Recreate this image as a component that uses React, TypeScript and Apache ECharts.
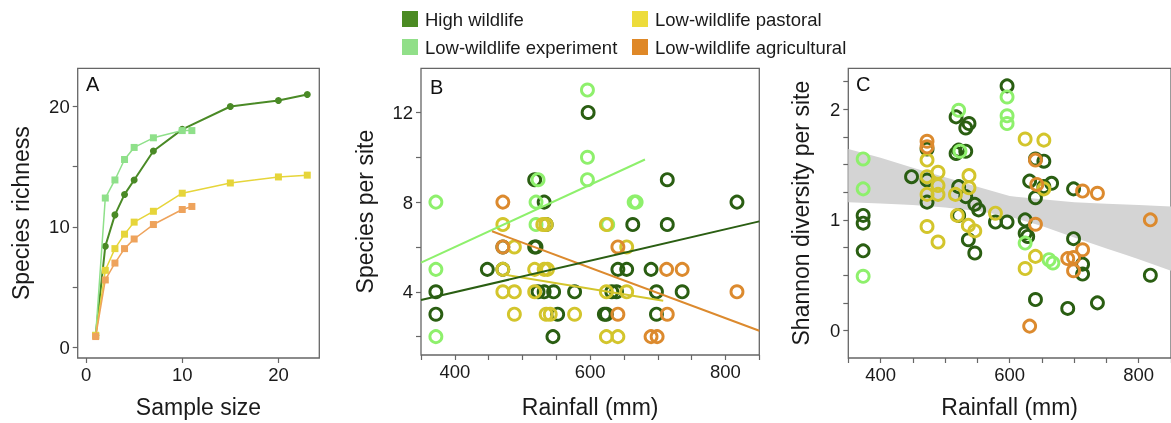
import React, { useEffect, useRef } from "react";
import * as echarts from "echarts";

const FONT = '"Liberation Sans", Arial, Helvetica, sans-serif';

// ---------- Panel A: rarefaction curves ----------
const sampleSize = [1, 2, 3, 4, 5, 7, 10, 15, 20, 23];
const highA = [1.0, 8.4, 11.0, 12.7, 13.9, 16.3, 18.1, 20.0, 20.5, 21.0];
const pastA = [1.0, 6.4, 8.2, 9.4, 10.4, 11.3, 12.8, 13.65, 14.15, 14.3];
const shortSize = [1, 2, 3, 4, 5, 7, 10, 11];
const expA = [1.0, 12.4, 13.9, 15.6, 16.6, 17.4, 18.0, 18.0];
const agriA = [0.9, 5.6, 7.0, 8.2, 9.0, 10.2, 11.45, 11.7];

// ---------- Panel B: species per site vs rainfall ----------
const highB_rain = [372, 372, 448, 471, 471, 518, 532, 535, 518, 520, 523, 532, 546, 552, 545, 577, 597, 663, 714, 714, 817, 641, 654, 690, 632, 639, 698, 736, 621, 624, 698];
const highB_sp = [4, 3, 5, 6, 5, 9, 8, 7, 6, 6, 4, 4, 4, 3, 2, 4, 12, 7, 9, 7, 8, 5, 5, 5, 4, 4, 4, 4, 3, 3, 3];
const expB_rain = [372, 372, 372, 523, 520, 520, 596, 596, 596, 665, 668, 626];
const expB_sp = [8, 5, 2, 9, 8, 7, 13, 10, 9, 8, 8, 7];
const pastB_rain = [471, 471, 471, 488, 488, 488, 535, 530, 518, 532, 537, 518, 535, 541, 577, 624, 654, 624, 654, 624, 641];
const pastB_sp = [7, 5, 4, 6, 4, 3, 7, 7, 5, 5, 5, 4, 3, 3, 3, 7, 6, 4, 4, 2, 2];
const agriB_rain = [471, 471, 641, 713, 736, 817, 641, 714, 690, 699];
const agriB_sp = [8, 6, 6, 5, 5, 4, 3, 3, 2, 2];

// fitted lines (end points)
const fitHighB_x = [350, 850];
const fitHighB_y = [3.63, 7.14];
const fitExpB_x = [350, 681];
const fitExpB_y = [5.3, 9.9];
const fitPastB_x = [472, 708];
const fitPastB_y = [4.77, 3.6];
const fitAgriB_x = [455, 850];
const fitAgriB_y = [6.7, 2.26];

// ---------- Panel C: Shannon diversity vs rainfall ----------
const highC_rain = [373, 373, 373, 448, 472, 472, 472, 517, 517, 521, 532, 532, 537, 521, 532, 521, 536, 546, 546, 552, 578, 596, 596, 624, 624, 628, 631, 640, 640, 640, 653, 653, 665, 690, 699, 699, 713, 713, 736, 818];
const highC_h = [1.04, 0.97, 0.72, 1.39, 1.64, 1.36, 1.16, 1.93, 1.60, 1.63, 1.62, 1.83, 1.87, 1.30, 1.21, 1.04, 0.82, 0.70, 1.14, 1.09, 0.98, 2.21, 0.98, 1.00, 0.88, 0.85, 1.35, 1.55, 1.20, 0.28, 1.53, 1.30, 1.33, 0.20, 1.28, 0.83, 0.60, 0.51, 0.25, 0.50];
const expC_rain = [373, 373, 373, 521, 523, 596, 596, 596, 624, 661, 667];
const expC_h = [1.55, 1.28, 0.49, 1.99, 1.62, 2.11, 1.94, 1.87, 0.79, 0.64, 0.61];
const pastC_rain = [472, 472, 472, 472, 489, 489, 489, 489, 537, 516, 519, 536, 546, 537, 578, 624, 624, 640, 653, 653];
const pastC_h = [1.54, 1.39, 1.23, 0.94, 1.43, 1.31, 1.23, 0.80, 1.40, 1.23, 1.04, 0.95, 0.90, 1.29, 1.06, 1.73, 0.56, 0.67, 1.72, 1.28];
const agriC_rain = [472, 472, 631, 640, 640, 642, 690, 699, 699, 713, 713, 736, 818];
const agriC_h = [1.71, 1.66, 0.04, 1.54, 0.96, 1.32, 0.65, 0.66, 0.54, 1.26, 0.73, 1.24, 1.00];

// confidence band
const bandRain = [350, 400, 450, 500, 550, 600, 650, 700, 750, 800, 850];
const bandUpper = [1.64, 1.56, 1.47, 1.385, 1.30, 1.215, 1.185, 1.16, 1.145, 1.133, 1.12];
const bandLower = [1.16, 1.148, 1.133, 1.112, 1.08, 1.03, 0.945, 0.84, 0.742, 0.645, 0.54];

// tick values
const ticksAx = [0, 10, 20];
const ticksAy = [0, 5, 10, 15, 20];
const labelsAy = [0, 10, 20];
const ticksRain = [350, 400, 450, 500, 550, 600, 650, 700, 750, 800, 850];
const labelsRain = [400, 600, 800];
const ticksBy = [2, 4, 6, 8, 10, 12];
const labelsBy = [4, 8, 12];
const ticksCy = [0, 0.25, 0.5, 0.75, 1, 1.25, 1.5, 1.75, 2, 2.25];
const labelsCy = [0, 1, 2];

const groups = ["High wildlife", "Low-wildlife experiment", "Low-wildlife pastoral", "Low-wildlife agricultural"];
const legendColors = ["#4b8b23", "#91df89", "#eddc3b", "#df8827"];
const colA = ["#4a8a26", "#8fe08a", "#e6d53a", "#eea35c"];
const colB = ["#2a5e12", "#8ef06c", "#d3c52c", "#dc8a2e"];

const pairs = (xs: number[], ys: number[]) => xs.map((x, i) => [x, ys[i]]);

const AXIS_GRAY = "#666";
const TEXT = "#1a1a1a";

function xAxisCfg(grid: number, min: number, max: number, ticks: number[], labels: number[], name: string, gap: number) {
  return {
    gridIndex: grid,
    type: "value",
    position: "bottom",
    min,
    max,
    axisLine: { show: false, onZero: false },
    axisTick: { show: true, inside: false, length: 5, customValues: ticks, lineStyle: { color: AXIS_GRAY, width: 1.2 } },
    axisLabel: { customValues: labels, fontSize: 18.5, fontFamily: FONT, color: TEXT, margin: 7 },
    splitLine: { show: false },
    name,
    nameLocation: "middle",
    nameGap: gap,
    nameTextStyle: { fontSize: 23, fontFamily: FONT, color: TEXT },
  };
}
function yAxisCfg(grid: number, min: number, max: number, ticks: number[], labels: number[], name: string, gap: number) {
  return {
    gridIndex: grid,
    type: "value",
    position: "left",
    min,
    max,
    axisLine: { show: false, onZero: false },
    axisTick: { show: true, inside: false, length: 5, customValues: ticks, lineStyle: { color: AXIS_GRAY, width: 1.2 } },
    axisLabel: { customValues: labels, fontSize: 18.5, fontFamily: FONT, color: TEXT, margin: 8 },
    splitLine: { show: false },
    name,
    nameLocation: "middle",
    nameGap: gap,
    nameTextStyle: { fontSize: 23, fontFamily: FONT, color: TEXT },
  };
}

function scatter(name: string, idx: number, xs: number[], ys: number[], color: string, z: number) {
  return {
    type: "scatter",
    name,
    xAxisIndex: idx,
    yAxisIndex: idx,
    data: pairs(xs, ys),
    symbol: "circle",
    symbolSize: 12,
    z,
    itemStyle: { color: "rgba(255,255,255,0)", borderColor: color, borderWidth: 2.9, opacity: 1 },
  };
}
function fitLine(name: string, xs: number[], ys: number[], color: string) {
  return {
    type: "line",
    name,
    xAxisIndex: 1,
    yAxisIndex: 1,
    data: pairs(xs, ys),
    symbol: "none",
    z: 10,
    lineStyle: { color, width: 2 },
  };
}

export default function App() {
  const ref = useRef<HTMLDivElement>(null);
  useEffect(() => {
    if (!ref.current) return;
    const chart = echarts.init(ref.current, undefined, { renderer: "svg" });
    const gridStyle = { show: true, borderColor: AXIS_GRAY, borderWidth: 1.3, backgroundColor: "transparent" };
    const legendPos = [
      [402, 9.5],
      [402, 37.5],
      [632, 9.5],
      [632, 37.5],
    ];
    const legendOrder = [0, 1, 2, 3];
    const option: any = {
      animation: false,
      textStyle: { fontFamily: FONT },
      grid: [
        { left: 77.7, top: 68.3, width: 241.6, height: 291.7, ...gridStyle },
        { left: 421, top: 68.3, width: 338.3, height: 288.4, ...gridStyle },
        { left: 848.3, top: 68.3, width: 326.3, height: 291, ...gridStyle },
      ],
      legend: legendOrder.map((g) => ({
        left: legendPos[g][0],
        top: legendPos[g][1],
        orient: "horizontal",
        padding: 0,
        itemGap: 0,
        itemWidth: 16,
        itemHeight: 16,
        icon: "rect",
        selectedMode: false,
        textStyle: { fontSize: 18.5, fontFamily: FONT, color: TEXT, lineHeight: 16, padding: [0, 0, 0, 2] },
        data: [{ name: groups[g], icon: "rect", itemStyle: { color: legendColors[g], borderWidth: 0, opacity: 1 } }],
      })),
      xAxis: [
        xAxisCfg(0, -0.87, 24.25, ticksAx, ticksAx, "Sample size", 37),
        xAxisCfg(1, 350, 850, ticksRain, labelsRain, "Rainfall (mm)", 40),
        xAxisCfg(2, 350, 850, ticksRain, labelsRain, "Rainfall (mm)", 37),
      ],
      yAxis: [
        yAxisCfg(0, -0.88, 23.17, ticksAy, labelsAy, "Species richness", 45),
        yAxisCfg(1, 1.18, 13.97, ticksBy, labelsBy, "Species per site", 45),
        yAxisCfg(2, -0.248, 2.369, ticksCy, labelsCy, "Shannon diversity per site", 36),
      ],
      graphic: [
        { type: "text", left: 86, top: 74, style: { text: "A", fontSize: 20, fontFamily: FONT, fill: "#111" } },
        { type: "text", left: 430, top: 77, style: { text: "B", fontSize: 20, fontFamily: FONT, fill: "#111" } },
        { type: "text", left: 856, top: 74, style: { text: "C", fontSize: 20, fontFamily: FONT, fill: "#111" } },
      ],
      series: [
        // Panel A
        {
          type: "line", name: groups[0], xAxisIndex: 0, yAxisIndex: 0, data: pairs(sampleSize, highA),
          symbol: "circle", symbolSize: 7, z: 3, lineStyle: { color: colA[0], width: 2 }, itemStyle: { color: colA[0] },
        },
        {
          type: "line", name: groups[1], xAxisIndex: 0, yAxisIndex: 0, data: pairs(shortSize, expA),
          symbol: "rect", symbolSize: 7, z: 4, lineStyle: { color: colA[1], width: 1.5 }, itemStyle: { color: colA[1] },
        },
        {
          type: "line", name: groups[2], xAxisIndex: 0, yAxisIndex: 0, data: pairs(sampleSize, pastA),
          symbol: "rect", symbolSize: 7, z: 4, lineStyle: { color: colA[2], width: 1.5 }, itemStyle: { color: colA[2] },
        },
        {
          type: "line", name: groups[3], xAxisIndex: 0, yAxisIndex: 0, data: pairs(shortSize, agriA),
          symbol: "rect", symbolSize: 7, z: 5, lineStyle: { color: colA[3], width: 1.5 }, itemStyle: { color: colA[3] },
        },
        // Panel B
        scatter(groups[0], 1, highB_rain, highB_sp, colB[0], 3),
        scatter(groups[1], 1, expB_rain, expB_sp, colB[1], 4),
        scatter(groups[2], 1, pastB_rain, pastB_sp, colB[2], 5),
        scatter(groups[3], 1, agriB_rain, agriB_sp, colB[3], 6),
        fitLine(groups[1], fitExpB_x, fitExpB_y, colB[1]),
        fitLine(groups[3], fitAgriB_x, fitAgriB_y, colB[3]),
        fitLine(groups[2], fitPastB_x, fitPastB_y, colB[2]),
        fitLine(groups[0], fitHighB_x, fitHighB_y, colB[0]),
        // Panel C band
        {
          type: "custom",
          name: "band",
          xAxisIndex: 2,
          yAxisIndex: 2,
          z: 1,
          silent: true,
          data: [[bandRain[0], bandUpper[0]]],
          renderItem: (params: any, api: any) => {
            const up = bandRain.map((r, i) => api.coord([r, bandUpper[i]]));
            const lo = bandRain.map((r, i) => api.coord([r, bandLower[i]])).reverse();
            return {
              type: "polygon",
              shape: { points: up.concat(lo) },
              style: { fill: "#d4d4d4", stroke: "none" },
            };
          },
        },
        scatter(groups[0], 2, highC_rain, highC_h, colB[0], 3),
        scatter(groups[1], 2, expC_rain, expC_h, colB[1], 4),
        scatter(groups[2], 2, pastC_rain, pastC_h, colB[2], 5),
        scatter(groups[3], 2, agriC_rain, agriC_h, colB[3], 6),
      ],
    };
    chart.setOption(option);
    return () => chart.dispose();
  }, []);
  return <div ref={ref} style={{ position: "fixed", left: 0, top: 0, width: 1171, height: 423 }} />;
}
